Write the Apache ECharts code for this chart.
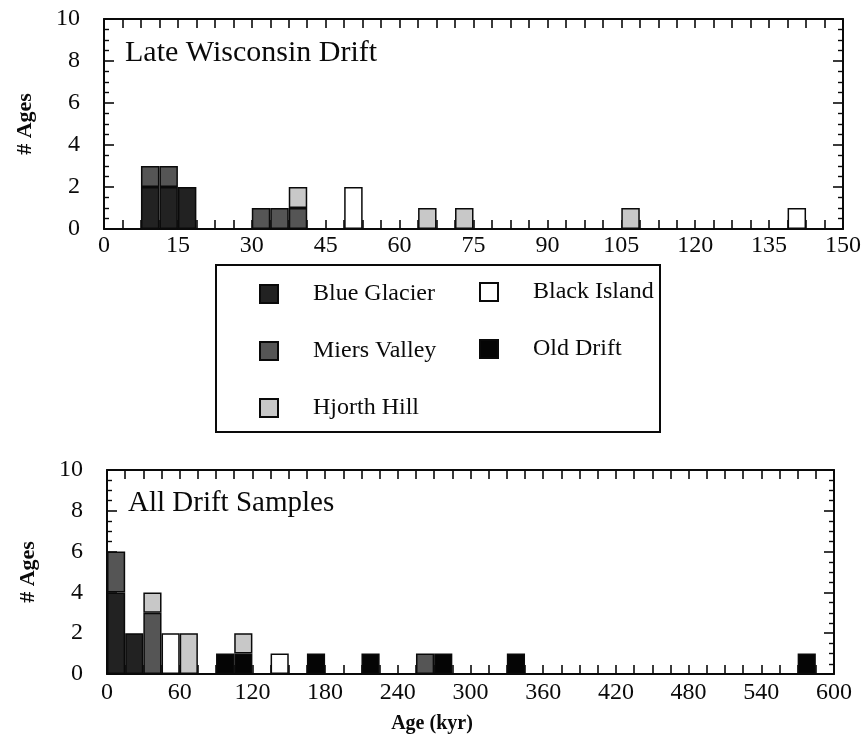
<!DOCTYPE html>
<html>
<head>
<meta charset="utf-8">
<script src="https://cdn.jsdelivr.net/npm/echarts@6/dist/echarts.min.js"></script>
<style>
html,body{margin:0;padding:0;background:#fff;}
#chart{width:868px;height:741px;}
</style>
</head>
<body>
<div id="chart"></div>
<script>
// ---- Data ----
// Top panel: Late Wisconsin Drift, 40 bins of 3.75 kyr (0-150)
const topBinWidth = 3.75;
const topBlueGlacier = [0,0,2,2,2,0,0,0,0,0, 0,0,0,0,0,0,0,0,0,0, 0,0,0,0,0,0,0,0,0,0, 0,0,0,0,0,0,0,0,0,0];
const topMiersValley = [0,0,1,1,0,0,0,0,1,1, 1,0,0,0,0,0,0,0,0,0, 0,0,0,0,0,0,0,0,0,0, 0,0,0,0,0,0,0,0,0,0];
const topHjorthHill  = [0,0,0,0,0,0,0,0,0,0, 1,0,0,0,0,0,0,1,0,1, 0,0,0,0,0,0,0,0,1,0, 0,0,0,0,0,0,0,0,0,0];
const topBlackIsland = [0,0,0,0,0,0,0,0,0,0, 0,0,0,2,0,0,0,0,0,0, 0,0,0,0,0,0,0,0,0,0, 0,0,0,0,0,0,0,1,0,0];
const topOldDrift    = [0,0,0,0,0,0,0,0,0,0, 0,0,0,0,0,0,0,0,0,0, 0,0,0,0,0,0,0,0,0,0, 0,0,0,0,0,0,0,0,0,0];

// Bottom panel: All Drift Samples, 40 bins of 15 kyr (0-600)
const botBinWidth = 15;
const botBlueGlacier = [4,2,0,0,0,0,0,0,0,0, 0,0,0,0,0,0,0,0,0,0, 0,0,0,0,0,0,0,0,0,0, 0,0,0,0,0,0,0,0,0,0];
const botMiersValley = [2,0,3,0,0,0,0,0,0,0, 0,0,0,0,0,0,0,1,0,0, 0,0,0,0,0,0,0,0,0,0, 0,0,0,0,0,0,0,0,0,0];
const botHjorthHill  = [0,0,1,0,2,0,0,1,0,0, 0,0,0,0,0,0,0,0,0,0, 0,0,0,0,0,0,0,0,0,0, 0,0,0,0,0,0,0,0,0,0];
const botBlackIsland = [0,0,0,2,0,0,0,0,0,1, 0,0,0,0,0,0,0,0,0,0, 0,0,0,0,0,0,0,0,0,0, 0,0,0,0,0,0,0,0,0,0];
const botOldDrift    = [0,0,0,0,0,0,1,1,0,0, 0,1,0,0,1,0,0,0,1,0, 0,0,1,0,0,0,0,0,0,0, 0,0,0,0,0,0,0,0,1,0];

const topXTicks = {min: 0, max: 150, interval: 15};
const botXTicks = {min: 0, max: 600, interval: 60};
const yTicks = {min: 0, max: 10, interval: 2};

const seriesNames = ['Blue Glacier', 'Old Drift', 'Miers Valley', 'Hjorth Hill', 'Black Island'];
const legendCol1 = ['Blue Glacier', 'Miers Valley', 'Hjorth Hill'];
const legendCol2 = ['Black Island', 'Old Drift'];

// ---- Styles ----
const FONT = '"Liberation Serif", "Times New Roman", serif';
const INK = '#0a0a0a';
const styles = {
  'Blue Glacier': '#222222',
  'Old Drift': '#050505',
  'Miers Valley': '#555555',
  'Hjorth Hill': '#c8c8c8',
  'Black Island': '#ffffff'
};

const topData = {
  'Blue Glacier': topBlueGlacier, 'Old Drift': topOldDrift, 'Miers Valley': topMiersValley,
  'Hjorth Hill': topHjorthHill, 'Black Island': topBlackIsland
};
const botData = {
  'Blue Glacier': botBlueGlacier, 'Old Drift': botOldDrift, 'Miers Valley': botMiersValley,
  'Hjorth Hill': botHjorthHill, 'Black Island': botBlackIsland
};

const topCats = topBlueGlacier.map((_, i) => String(i * topBinWidth));
const botCats = botBlueGlacier.map((_, i) => String(i * botBinWidth));

function valueX(gridIndex, ticks, pos, showLabel, margin) {
  return {
    type: 'value', gridIndex: gridIndex, position: pos,
    min: ticks.min, max: ticks.max, interval: ticks.interval,
    axisLine: {show: true, onZero: false, lineStyle: {color: INK, width: 2}},
    axisTick: {show: true, inside: true, length: 9, lineStyle: {color: INK, width: 1.6}},
    minorTick: {show: true, splitNumber: 4, length: 9, lineStyle: {color: INK, width: 1.6}},
    splitLine: {show: false}, minorSplitLine: {show: false},
    axisLabel: {show: showLabel, margin: margin, fontFamily: FONT, fontSize: 24, color: INK}
  };
}
function valueY(gridIndex, pos, showLabel, showName) {
  return {
    type: 'value', gridIndex: gridIndex, position: pos,
    min: yTicks.min, max: yTicks.max, interval: yTicks.interval,
    name: showName ? '# Ages' : '', nameLocation: 'middle', nameRotate: 90, nameGap: 68,
    nameTextStyle: {fontFamily: FONT, fontSize: 22, fontWeight: 'bold', color: INK},
    axisLine: {show: true, onZero: false, lineStyle: {color: INK, width: 2}},
    axisTick: {show: true, inside: true, length: 10, lineStyle: {color: INK, width: 1.6}},
    minorTick: {show: true, splitNumber: 4, length: 5, lineStyle: {color: INK, width: 1.4}},
    splitLine: {show: false}, minorSplitLine: {show: false},
    axisLabel: {show: showLabel, margin: 24, fontFamily: FONT, fontSize: 24, color: INK}
  };
}

function makeSeries(dataMap, xIdx, yIdx, stackName) {
  return seriesNames.map(name => ({
    name: name, type: 'bar', xAxisIndex: xIdx, yAxisIndex: yIdx, stack: stackName,
    barWidth: '100%', barCategoryGap: 0,
    itemStyle: {color: styles[name], borderColor: INK, borderWidth: 1.5},
    emphasis: {disabled: true},
    data: dataMap[name].map(v => (v === 0 ? null : v))
  }));
}

const legendText = {fontFamily: FONT, fontSize: 24, color: INK, lineHeight: 18, padding: [0, 0, 0, 30]};

const chart = echarts.init(document.getElementById('chart'), null, {renderer: 'canvas'});
const option = {
  animation: false,
  backgroundColor: '#fff',
  grid: [
    {left: 104, top: 19, width: 739, height: 210},
    {left: 107, top: 470, width: 727, height: 204}
  ],
  xAxis: [
    {type: 'category', gridIndex: 0, data: topCats, show: false, boundaryGap: true},
    valueX(0, topXTicks, 'bottom', true, 5),
    valueX(0, topXTicks, 'top', false, 5),
    {type: 'category', gridIndex: 1, data: botCats, show: false, boundaryGap: true},
    valueX(1, botXTicks, 'bottom', true, 7),
    valueX(1, botXTicks, 'top', false, 5)
  ],
  yAxis: [
    valueY(0, 'left', true, true),
    valueY(0, 'right', false, false),
    valueY(1, 'left', true, true),
    valueY(1, 'right', false, false)
  ],
  legend: [
    {
      data: legendCol1, orient: 'vertical', left: 259, top: 282, padding: 0,
      itemWidth: 18, itemHeight: 18, itemGap: 33, selectedMode: false, icon: 'rect',
      textStyle: legendText
    },
    {
      data: legendCol2, orient: 'vertical', left: 479, top: 280, padding: 0,
      itemWidth: 18, itemHeight: 18, itemGap: 33, selectedMode: false, icon: 'rect',
      textStyle: legendText
    }
  ],
  graphic: [
    {type: 'rect', shape: {x: 216, y: 265, width: 444, height: 167},
     style: {fill: 'none', stroke: INK, lineWidth: 2}, z: 10},
    {type: 'text', x: 125, y: 53,
     style: {text: 'Late Wisconsin Drift', font: '30px ' + FONT, fill: INK, textVerticalAlign: 'middle', verticalAlign: 'middle'}},
    {type: 'text', x: 128, y: 503,
     style: {text: 'All Drift Samples', font: '29px ' + FONT, fill: INK, textVerticalAlign: 'middle', verticalAlign: 'middle'}},
    {type: 'text', x: 432, y: 724,
     style: {text: 'Age (kyr)', font: 'bold 20px ' + FONT, fill: INK, align: 'center', verticalAlign: 'middle', textAlign: 'center', textVerticalAlign: 'middle'}}
  ],
  series: [].concat(makeSeries(topData, 0, 0, 'top'), makeSeries(botData, 3, 2, 'bot'))
};
chart.setOption(option);
</script>
</body>
</html>
